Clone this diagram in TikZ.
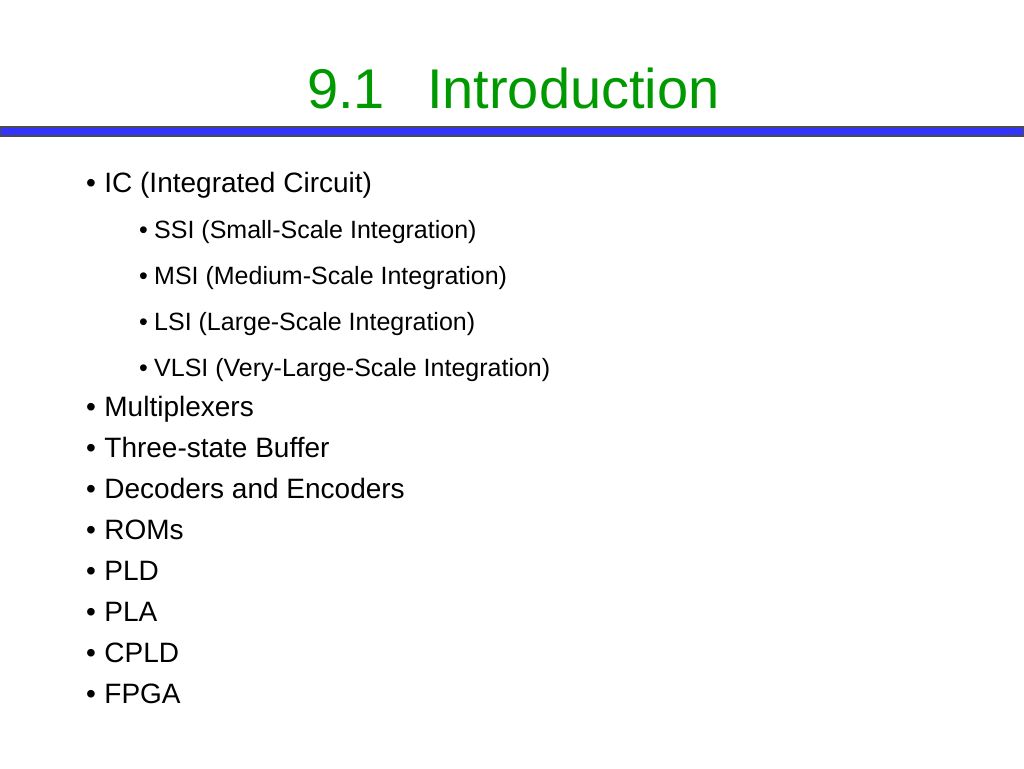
\documentclass[tikz,border=0pt]{standalone}
\usepackage{fontspec}
\setmainfont{Liberation Sans}
\definecolor{titlegreen}{RGB}{0,153,0}
\definecolor{barblue}{RGB}{51,51,255}
\begin{document}
\begin{tikzpicture}[x=1pt,y=-1pt,
  top/.style={anchor=base west,inner sep=0pt,font=\fontsize{28}{30}\selectfont},
  sub/.style={anchor=base west,inner sep=0pt,font=\fontsize{25}{26}\selectfont}]
\useasboundingbox[fill=white] (0,0) rectangle (1024,768);
\node[anchor=base west,inner sep=0pt,text=titlegreen,font=\fontsize{56}{62}\selectfont] (title) at (307,108) {9.1\hspace{0.75em}Introduction};
\draw[fill=barblue,draw=black!70,line width=1.2pt] (0,127) rectangle (1024,136);
\node[top] (a) at (86,192) {•\hspace{0.3em}IC (Integrated Circuit)};
\node[sub] (s1) at (139,238) {•\hspace{0.25em}SSI (Small-Scale Integration)};
\node[sub] (s2) at (139,284) {•\hspace{0.25em}MSI (Medium-Scale Integration)};
\node[sub] (s3) at (139,330) {•\hspace{0.25em}LSI (Large-Scale Integration)};
\node[sub] (s4) at (139,376) {•\hspace{0.25em}VLSI (Very-Large-Scale Integration)};
\node[top] (b) at (86,416) {•\hspace{0.3em}Multiplexers};
\node[top] (c) at (86,457) {•\hspace{0.3em}Three-state Buffer};
\node[top] (d) at (86,498) {•\hspace{0.3em}Decoders and Encoders};
\node[top] (e) at (86,539) {•\hspace{0.3em}ROMs};
\node[top] (f) at (86,580) {•\hspace{0.3em}PLD};
\node[top] (g) at (86,621) {•\hspace{0.3em}PLA};
\node[top] (h) at (86,662) {•\hspace{0.3em}CPLD};
\node[top] (i) at (86,703) {•\hspace{0.3em}FPGA};
\end{tikzpicture}
\end{document}
